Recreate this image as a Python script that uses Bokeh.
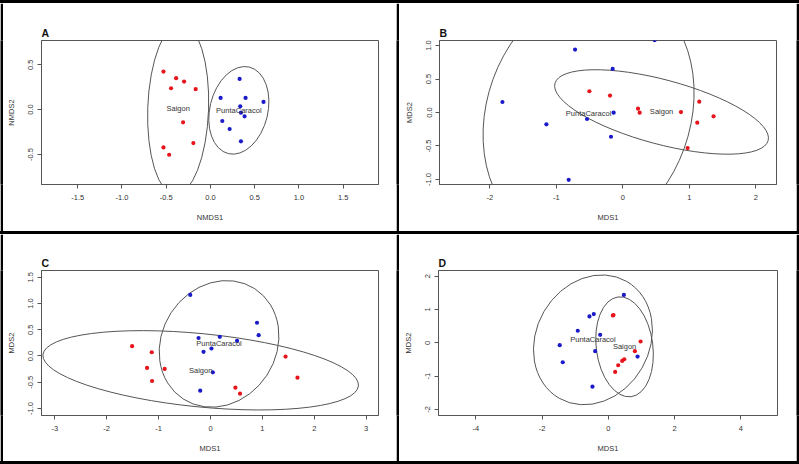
from bokeh.plotting import figure
from bokeh.layouts import row, column
from bokeh.models import FixedTicker, Range1d, Div
from bokeh.core.properties import value
from bokeh.embed import file_html
from bokeh.resources import INLINE

# ---------------- data ----------------
# Panel A (NMDS)
a_red_x = [-0.531, -0.388, -0.298, -0.445, -0.167, -0.309, -0.193, -0.531, -0.467]
a_red_y = [0.425, 0.351, 0.313, 0.239, 0.228, -0.142, -0.373, -0.422, -0.504]
a_blue_x = [0.330, 0.115, 0.397, 0.600, 0.337, 0.345, 0.386, 0.134, 0.217, 0.345]
a_blue_y = [0.343, 0.131, 0.131, 0.086, 0.037, -0.034, -0.075, -0.127, -0.216, -0.354]

# Panel B (MDS)
b_red_x = [-0.503, -0.193, 0.228, 0.253, 0.874, 1.149, 1.119, 1.364, 0.974]
b_red_y = [0.317, 0.252, 0.057, -0.002, 0.007, 0.162, -0.152, -0.057, -0.531]
b_blue_x = [0.478, -0.718, -0.153, -1.810, -0.138, -0.538, -1.149, -0.178, -0.814]
b_blue_y = [1.080, 0.940, 0.651, 0.157, -0.002, -0.097, -0.177, -0.362, -1.005]

# Panel C (MDS)
c_red_x = [-1.510, -1.132, -1.222, -0.883, -1.126, 1.446, 1.676, 0.480, 0.569]
c_red_y = [0.186, 0.071, -0.228, -0.247, -0.477, -0.011, -0.413, -0.604, -0.719]
c_blue_x = [-0.390, 0.896, 0.928, -0.230, 0.179, 0.512, -0.134, 0.019, 0.045, -0.198]
c_blue_y = [1.162, 0.633, 0.397, 0.342, 0.365, 0.288, 0.078, 0.142, -0.311, -0.662]

# Panel D (MDS)
d_red_x = [0.156, 0.135, 0.974, 0.802, 0.480, 0.419, 0.298, 0.207]
d_red_y = [0.834, 0.820, 0.040, -0.251, -0.493, -0.543, -0.673, -0.874]
d_blue_x = [0.469, -0.440, -0.570, -0.923, -0.246, -1.468, -0.398, 0.883, -1.377, -0.479]
d_blue_y = [1.437, 0.864, 0.794, 0.362, 0.241, -0.070, -0.251, -0.412, -0.583, -1.317]

# group labels and ellipses: centre x, centre y, width, height, angle (rad)
groups = ["Saigon", "PuntaCaracol"]
a_ell_x = [-0.365, 0.321]
a_ell_y = [0.010, -0.008]
a_ell_w = [0.688, 0.656]
a_ell_h = [1.920, 0.995]
a_ell_a = [-0.035, -0.237]

b_ell_x = [0.582, -0.515]
b_ell_y = [0.008, -0.020]
b_ell_w = [3.318, 3.056]
b_ell_h = [0.962, 3.924]
b_ell_a = [-0.262, -0.347]

c_ell_x = [-0.189, 0.165]
c_ell_y = [-0.273, 0.230]
c_ell_w = [6.108, 2.533]
c_ell_h = [1.396, 2.180]
c_ell_a = [-0.0986, 0.995]

d_ell_x = [0.490, -0.465]
d_ell_y = [-0.120, 0.090]
d_ell_w = [1.710, 4.076]
d_ell_h = [3.020, 3.398]
d_ell_a = [0.130, 1.047]

a_xticks = [-1.5, -1.0, -0.5, 0.0, 0.5, 1.0, 1.5]
a_yticks = [-0.5, 0.0, 0.5]
b_xticks = [-2, -1, 0, 1, 2]
b_yticks = [-1.0, -0.5, 0.0, 0.5, 1.0]
c_xticks = [-3, -2, -1, 0, 1, 2, 3]
c_yticks = [-1.0, -0.5, 0.0, 0.5, 1.0, 1.5]
d_xticks = [-4, -2, 0, 2, 4]
d_yticks = [-2, -1, 0, 1, 2]

RED = "#e8141c"
BLUE = "#1a1ac8"
FONT = "Liberation Sans"
TXT = "#333333"


def fmt1(t):
    return "%.1f" % t


def fmt0(t):
    return "%d" % t


def vbar(w, h):
    b = figure(width=w, height=h, toolbar_location=None, output_backend="svg",
               x_axis_type=None, y_axis_type=None, min_border=0, title=None,
               background_fill_color="black", border_fill_color="black",
               outline_line_color=None, x_range=Range1d(0, 1), y_range=Range1d(0, 1))
    return b


def hbar(w, h):
    return Div(text="", width=w, height=h,
               styles={"background-color": "black", "margin": "0", "padding": "0"})


def panel(letter, w, h, borders, xr, yr, xt, xf, yt, yf, xlab, ylab,
          rx, ry, bx, by, ex, ey, ew, eh, ea):
    left, right, top, bottom = borders
    p = figure(width=w, height=h, x_range=Range1d(*xr), y_range=Range1d(*yr),
               toolbar_location=None, output_backend="svg",
               min_border_left=left, min_border_right=right,
               min_border_top=top, min_border_bottom=bottom,
               title=letter)
    p.grid.visible = False
    p.outline_line_color = "#555555"
    p.outline_line_width = 1
    p.title.text_font = FONT
    p.title.text_font_style = "bold"
    p.title.text_font_size = "10.5px"
    p.title.text_color = "#111111"
    p.title.align = "left"
    p.title.standoff = 3

    for ax, ticks, f, lab in ((p.xaxis[0], xt, xf, xlab), (p.yaxis[0], yt, yf, ylab)):
        ax.ticker = FixedTicker(ticks=ticks)
        ax.major_label_overrides = {t: f(t) for t in ticks}
        ax.minor_tick_line_color = None
        ax.major_tick_in = 0
        ax.major_tick_out = 4
        ax.major_tick_line_color = "#555555"
        ax.axis_line_color = "#555555"
        ax.major_label_text_font = FONT
        ax.major_label_text_font_size = "7.5px"
        ax.major_label_text_color = TXT
        ax.axis_label = lab
        ax.axis_label_text_font = FONT
        ax.axis_label_text_font_size = "7.5px"
        ax.axis_label_text_font_style = "normal"
        ax.axis_label_text_color = TXT
    p.xaxis.major_label_standoff = 6
    p.xaxis.axis_label_standoff = 10
    p.yaxis.major_label_standoff = 4
    p.yaxis.axis_label_standoff = 10
    p.yaxis.major_label_orientation = "vertical"

    p.ellipse(x=ex, y=ey, width=ew, height=eh, angle=ea,
              fill_color=None, line_color="#555555", line_width=1)
    p.scatter(x=rx, y=ry, size=4.2, fill_color=RED, line_color=None)
    p.scatter(x=bx, y=by, size=4.2, fill_color=BLUE, line_color=None)
    p.text(x=ex, y=ey, text=groups, text_align="center", text_baseline="middle",
           text_font=value(FONT), text_font_size=value("7.5px"), text_color=TXT)
    return p


pA = panel("A", 393, 228, (38, 18, 37, 47), (-1.91, 1.90), (-0.836, 0.772),
           a_xticks, fmt1, a_yticks, fmt1, "NMDS1", "NMDS2",
           a_red_x, a_red_y, a_blue_x, a_blue_y,
           a_ell_x, a_ell_y, a_ell_w, a_ell_h, a_ell_a)
pB = panel("B", 397, 228, (40, 20, 37, 47), (-2.756, 2.310), (-1.075, 1.075),
           b_xticks, fmt0, b_yticks, fmt1, "MDS1", "MDS2",
           b_red_x, b_red_y, b_blue_x, b_blue_y,
           b_ell_x, b_ell_y, b_ell_w, b_ell_h, b_ell_a)
pC = panel("C", 393, 227, (38, 18, 36, 46), (-3.256, 3.237), (-1.134, 1.628),
           c_xticks, fmt0, c_yticks, fmt1, "MDS1", "MDS2",
           c_red_x, c_red_y, c_blue_x, c_blue_y,
           c_ell_x, c_ell_y, c_ell_w, c_ell_h, c_ell_a)
pD = panel("D", 397, 227, (39, 19, 36, 46), (-5.13, 5.11), (-2.181, 2.171),
           d_xticks, fmt0, d_yticks, fmt0, "MDS1", "MDS2",
           d_red_x, d_red_y, d_blue_x, d_blue_y,
           d_ell_x, d_ell_y, d_ell_w, d_ell_h, d_ell_a)

layout = column(
    hbar(799, 3),
    row(vbar(3, 228), pA, vbar(3, 228), pB, vbar(3, 228)),
    hbar(799, 3),
    row(vbar(3, 227), pC, vbar(3, 227), pD, vbar(3, 227)),
    hbar(799, 3),
)

open("out.html", "w").write(file_html(layout, INLINE))
